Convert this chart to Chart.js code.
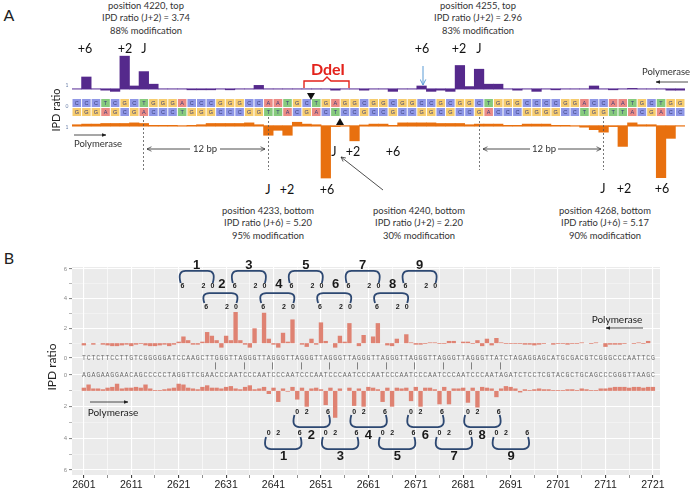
<!DOCTYPE html>
<html lang="en">
<head>
<meta charset="UTF-8">
<title>IPD ratio</title>
<style>
  body { margin: 0; width: 697px; height: 490px; position: relative; overflow: hidden; background: #fff;
         font-family: Lato, "Liberation Sans", Arial, sans-serif; color: #222; }
  .box { position: absolute; }
  .c { position: absolute; transform: translate(-50%, -50%); white-space: nowrap; line-height: 1; }
  .note { position: absolute; transform: translateX(-50%); text-align: center; font-size: 9.4px; line-height: 12.4px; color: #333; white-space: nowrap; }
  .lab { font-size: 12.5px; color: #111; }
  .pol { font-size: 9.5px; color: #333; }
  .tiny { font-size: 5px; color: #6a7fa8; }
  .rot { transform: translate(-50%, -50%) rotate(-90deg); }
  svg { position: absolute; left: 0; top: 0; }
</style>
</head>
<body>
<div class="box" style="left:72px; top:48px; width:613px; height:70px;"><canvas id="aTop"></canvas></div>
<div class="box" style="left:72px; top:121px; width:613px; height:60px;"><canvas id="aBot"></canvas></div>
<div class="box" style="left:55px; top:257px; width:625px; height:105px;"><canvas id="bTop"></canvas></div>
<div class="box" style="left:55px; top:362px; width:625px; height:128px;"><canvas id="bBot"></canvas></div>

<!-- panel A text -->
<div class="c" style="left:9px; top:15px; font-size:16px;">A</div>
<div class="note" style="left:146px; top:0px;">position 4220, top<br>IPD ratio (J+2) = 3.74<br>88% modification</div>
<div class="note" style="left:478px; top:0px;">position 4255, top<br>IPD ratio (J+2) = 2.96<br>83% modification</div>
<div class="c lab" style="left:85px; top:49px;">+6</div>
<div class="c lab" style="left:125px; top:49px;">+2</div>
<div class="c lab" style="left:144px; top:49px;">J</div>
<div class="c lab" style="left:422px; top:49px;">+6</div>
<div class="c lab" style="left:459px; top:49px;">+2</div>
<div class="c lab" style="left:479px; top:49px;">J</div>
<div class="c" style="left:328px; top:69px; font-size:16px; font-weight:bold; color:#e3221b;">DdeI</div>
<div class="c pol" style="left:666px; top:72px;">Polymerase</div>
<div class="c pol" style="left:98px; top:144px;">Polymerase</div>
<div class="c rot" style="left:55px; top:110px; font-size:11px;">IPD ratio</div>
<div class="c tiny" style="left:67px; top:85px;">1</div>
<div class="c tiny" style="left:67px; top:106px;">0</div>
<div class="c tiny" style="left:67px; top:127px;">1</div>
<div class="c pol" style="left:205px; top:149px;">12 bp</div>
<div class="c pol" style="left:544px; top:149px;">12 bp</div>
<div class="c lab" style="left:334px; top:152px;">J</div>
<div class="c lab" style="left:353px; top:152px;">+2</div>
<div class="c lab" style="left:393px; top:152px;">+6</div>
<div class="c lab" style="left:268px; top:190px;">J</div>
<div class="c lab" style="left:287px; top:190px;">+2</div>
<div class="c lab" style="left:327px; top:190px;">+6</div>
<div class="c lab" style="left:603px; top:189px;">J</div>
<div class="c lab" style="left:624px; top:189px;">+2</div>
<div class="c lab" style="left:662px; top:189px;">+6</div>
<div class="note" style="left:268px; top:205px;">position 4233, bottom<br>IPD ratio (J+6) = 5.20<br>95% modification</div>
<div class="note" style="left:419px; top:205px;">position 4240, bottom<br>IPD ratio (J+2) = 2.20<br>30% modification</div>
<div class="note" style="left:605px; top:205px;">position 4268, bottom<br>IPD ratio (J+6) = 5.17<br>90% modification</div>

<!-- panel B text -->
<div class="c" style="left:9px; top:258px; font-size:16px;">B</div>
<div class="c rot" style="left:52px; top:367px; font-size:12px;">IPD ratio</div>
<div class="c" style="left:617px; top:319px; font-size:10px;">Polymerase</div>
<div class="c" style="left:113px; top:412px; font-size:10px;">Polymerase</div>

<svg width="697" height="490">
  <defs>
    <marker id="fh" viewBox="0 0 10 10" refX="9" refY="5" markerWidth="6" markerHeight="6" orient="auto-start-reverse">
      <path d="M0,1 L10,5 L0,9 z" fill="#222"/>
    </marker>
    <marker id="bh" viewBox="0 0 10 10" refX="9" refY="5" markerWidth="7" markerHeight="7" orient="auto-start-reverse">
      <path d="M1,1 L9,5 L1,9" fill="none" stroke="#5b9bd5" stroke-width="1.4"/>
    </marker>
    <marker id="oh" viewBox="0 0 10 10" refX="9" refY="5" markerWidth="7" markerHeight="7" orient="auto-start-reverse">
      <path d="M1,1 L9,5 L1,9" fill="none" stroke="#222" stroke-width="1.2"/>
    </marker>
  </defs>
  <g stroke="#555" stroke-width="0.8" stroke-dasharray="2,2">
    <line x1="143.5" y1="116" x2="143.5" y2="170"/>
    <line x1="268.5" y1="117" x2="268.5" y2="170"/>
    <line x1="479.5" y1="117" x2="479.5" y2="170"/>
    <line x1="603.5" y1="117" x2="603.5" y2="170"/>
  </g>
  <g stroke="#222" stroke-width="0.8" fill="none">
    <line x1="190" y1="149" x2="147" y2="149" marker-end="url(#oh)"/>
    <line x1="220" y1="149" x2="265" y2="149" marker-end="url(#oh)"/>
    <line x1="530" y1="149" x2="483" y2="149" marker-end="url(#oh)"/>
    <line x1="558" y1="149" x2="601" y2="149" marker-end="url(#oh)"/>
    <line x1="74" y1="135" x2="106" y2="135" marker-end="url(#fh)"/>
    <line x1="688" y1="82" x2="656" y2="82" marker-end="url(#fh)"/>
    <line x1="383" y1="190" x2="341" y2="157" marker-end="url(#oh)"/>
    <line x1="643" y1="328" x2="606" y2="328" marker-end="url(#fh)"/>
    <line x1="90" y1="402" x2="128" y2="402" marker-end="url(#fh)"/>
  </g>
  <line x1="423" y1="66" x2="423" y2="85" stroke="#5b9bd5" stroke-width="1" marker-end="url(#bh)"/>
  <polyline points="304,88 304,81 323,81 327,77 331,81 349,81 349,88" fill="none" stroke="#e3221b" stroke-width="1.4"/>
  <polygon points="307,93 315,93 311,100" fill="#111"/>
  <polygon points="336,125 344,125 340,118" fill="#111"/>
</svg>

<script src="https://cdn.jsdelivr.net/npm/chart.js"></script>
<script>
// ---- panel A: positions 4213..4276, IPD ratio per base ----
const posA = Array.from({ length: 64 }, (_, i) => 4213 + i);
const topA = [
  1.0, 2.0, 1.0, 0.9, 0.8, 3.74, 1.25, 2.45, 1.4, 1.0,
  1.0, 1.0, 0.93, 0.93, 0.93, 1.0, 0.93, 1.0, 1.0, 1.3,
  1.0, 1.0, 1.0, 1.0, 1.0, 1.0, 1.0, 0.9, 1.0, 1.0,
  0.9, 1.0, 1.0, 0.8, 1.0, 1.0, 1.25, 0.8, 0.9, 0.8,
  2.96, 1.2, 2.65, 1.4, 1.4, 1.0, 0.9, 1.0, 0.8, 1.0,
  0.93, 1.0, 1.0, 1.0, 1.25, 1.0, 0.93, 1.0, 1.05, 1.0,
  1.0, 1.0, 0.9, 0.9
];
const botA = [
  0.9, 0.85, 0.85, 0.8, 0.8, 0.8, 0.75, 0.8, 0.95, 0.95,
  0.95, 1.0, 0.95, 0.9, 0.8, 0.8, 0.8, 0.8, 0.75, 0.9,
  1.75, 1.35, 1.75, 0.7, 0.85, 0.9, 5.2, 1.05, 1.0, 2.2,
  0.92, 0.85, 0.85, 0.95, 0.75, 0.75, 0.75, 0.75, 0.8, 0.8,
  0.8, 0.9, 0.85, 0.85, 0.85, 0.95, 0.95, 0.85, 0.85, 0.85,
  0.95, 0.95, 1.0, 1.1, 1.3, 1.5, 1.05, 2.65, 0.75, 0.9,
  0.9, 5.17, 2.0, 1.0
];
const seqA = "CCCTCGCTGGGACCCGGGCCAATGCTGAGGCGGCGGCCGCGGCTGGGCCCCGGACCAATGCTGG";

// ---- panel B: positions 2601..2721 ----
const posB = Array.from({ length: 121 }, (_, i) => 2601 + i);
const topB = [
  0.85, 1.0, 0.9, 1.0, 0.9, 0.85, 0.8, 0.8, 0.85, 0.9,
  0.8, 0.9, 0.95, 0.85, 0.8, 0.8, 0.85, 0.9, 0.8, 0.9,
  1.1, 1.45, 1.2, 0.9, 0.9, 1.1, 1.75, 1.5, 1.2, 0.7,
  1.5, 1.2, 3.1, 1.2, 0.9, 0.7, 2.0, 1.0, 3.05, 1.3,
  0.9, 0.7, 1.7, 1.1, 2.6, 1.0, 0.9, 0.75, 1.3, 0.9,
  2.4, 1.15, 1.0, 0.7, 1.5, 1.1, 2.35, 1.0, 0.8, 1.55,
  1.0, 1.45, 2.35, 1.0, 0.85, 0.8, 1.3, 1.0, 1.6, 1.05,
  0.9, 0.9, 0.95, 1.05, 1.05, 0.95, 0.95, 1.15, 1.15, 1.0,
  1.1, 1.1, 0.95, 1.2, 0.8, 1.3, 0.85, 1.35, 1.05, 0.95,
  0.95, 0.95, 0.95, 0.9, 0.9, 0.85, 0.9, 0.95, 1.0, 0.9,
  0.95, 0.95, 0.9, 0.95, 0.95, 1.05, 1.0, 0.95, 1.05, 1.0,
  0.75, 0.9, 0.9, 0.9, 0.95, 1.0, 0.95, 1.05, 0.95, 1.15,
  1.0
];
const botB = [
  0.8, 0.6, 0.85, 0.85, 0.9, 0.8, 0.75, 0.55, 0.85, 0.8,
  0.8, 0.75, 0.8, 0.6, 0.85, 0.95, 0.95, 0.9, 0.85, 0.8,
  0.55, 0.6, 0.8, 0.85, 0.9, 0.75, 0.65, 0.8, 0.8, 0.85,
  0.75, 0.7, 0.85, 0.9, 0.75, 0.65, 0.9, 0.85, 0.75, 1.2,
  0.8, 1.7, 0.85, 1.05, 0.75, 1.55, 0.8, 2.0, 0.85, 0.8,
  0.9, 1.9, 0.8, 2.7, 0.85, 1.0, 0.8, 1.95, 0.85, 2.0,
  0.75, 0.8, 0.9, 1.7, 0.8, 2.0, 0.8, 0.85, 0.8, 1.65,
  0.75, 2.0, 0.8, 0.8, 0.9, 1.85, 0.75, 1.85, 0.85, 0.85,
  0.8, 1.75, 0.8, 2.05, 0.75, 0.8, 0.85, 1.4, 0.85, 0.7,
  0.75, 0.85, 1.1, 0.9, 0.95, 0.9, 0.85, 0.9, 0.9, 0.95,
  0.95, 0.95, 0.9, 0.9, 0.95, 0.85, 0.9, 0.95, 0.95, 0.85,
  0.85, 0.8, 0.75, 0.75, 0.75, 0.8, 0.75, 0.75, 0.8, 0.75,
  0.75
];
const seqBTop = "TCTCTTCCTTGTCGGGGGATCCAAGCTT" + "GGGTTAGGGTTAGGGTTAGGGTTAGGGTTAGGGTTAGGGTTAGGGTTAGGGTTAGGGTTA" + "TCTAGAGGAGCATGCGACGTCGGGCCCAATTCG";
const seqBBot = "AGAGAAGGAACAGCCCCCTAGGTTCGAA" + "CCCAATCCCAATCCCAATCCCAATCCCAATCCCAATCCCAATCCCAATCCCAATCCCAAT" + "AGATCTCCTCGTACGCTGCAGCCCGGGTTAAGC";
const pairMarks = [2629, 2635, 2641, 2647, 2653, 2659, 2665, 2671, 2677, 2683, 2689];
const xTicksB = [2601, 2606, 2611, 2616, 2621, 2626, 2631, 2636, 2641, 2646, 2651, 2656, 2661,
                 2666, 2671, 2676, 2681, 2686, 2691, 2696, 2701, 2706, 2711, 2716, 2721];
const yTicksB = [0, 1, 2, 3, 4, 5, 6];
// repeat brackets: J position (0) of each numbered repeat
const topOdd = [2628, 2639, 2651, 2663, 2675], topOddLab = ['1', '3', '5', '7', '9'];
const topEven = [2633, 2645, 2657, 2669], topEvenLab = ['2', '4', '6', '8'];
const botOdd = [2640, 2652, 2664, 2676, 2688], botOddLab = ['1', '3', '5', '7', '9'];
const botEven = [2646, 2658, 2670, 2682], botEvenLab = ['2', '4', '6', '8'];

Chart.defaults.font.family = '"Liberation Sans", Arial, sans-serif';
const comp = { A: 'T', T: 'A', C: 'G', G: 'C' };
const baseCol = { C: '#8f97e6', G: '#f6cc6e', A: '#ec8b85', T: '#86ca7d' };

function baseLine(color) {
  return {
    id: 'baseLine',
    beforeDatasetsDraw(c) {
      const a = c.chartArea, y = c.scales.y.getPixelForValue(1), ctx = c.ctx;
      ctx.save(); ctx.strokeStyle = color; ctx.lineWidth = 1.3;
      ctx.beginPath(); ctx.moveTo(a.left, y); ctx.lineTo(a.right, y); ctx.stroke(); ctx.restore();
    }
  };
}
const seqCells = {
  id: 'seqCells',
  afterDraw(c) {
    const xs = c.scales.x, a = c.chartArea, ctx = c.ctx;
    ctx.save();
    ctx.font = '5.5px "Liberation Sans", Arial';
    ctx.textAlign = 'center'; ctx.textBaseline = 'middle';
    posA.forEach((p, i) => {
      const x0 = xs.getPixelForValue(p - 0.5), x1 = xs.getPixelForValue(p + 0.5);
      [seqA[i], comp[seqA[i]]].forEach((b, r) => {
        const y0 = a.bottom + 5 + r * 9;
        ctx.fillStyle = baseCol[b];
        ctx.fillRect(x0 + 0.5, y0, x1 - x0 - 1, 8);
        ctx.fillStyle = '#3b3f7a';
        ctx.fillText(b, (x0 + x1) / 2, y0 + 4.3);
      });
    });
    ctx.restore();
  }
};
const grayBg = {
  id: 'grayBg',
  beforeDraw(c) {
    const a = c.chartArea, ctx = c.ctx;
    ctx.save(); ctx.fillStyle = '#ebebeb';
    ctx.fillRect(a.left, a.top, a.right - a.left, a.bottom - a.top); ctx.restore();
  }
};
function brace(ctx, xa, xb, yEnd, yFlat) {
  const r = 6, k = (yEnd - yFlat) * 0.25;
  ctx.beginPath();
  ctx.moveTo(xa + 1, yEnd);
  ctx.bezierCurveTo(xa - 1.5, yFlat + k, xa + 1, yFlat, xa + r, yFlat);
  ctx.lineTo(xb - r, yFlat);
  ctx.bezierCurveTo(xb - 1, yFlat, xb + 1.5, yFlat + k, xb - 1, yEnd);
  ctx.stroke();
}
function drawSeq(c, seq, color) {
  const xs = c.scales.x, y = c.scales.y.getPixelForValue(0), ctx = c.ctx;
  const step = (posB[posB.length - 1] - posB[0]) / (seq.length - 1);
  ctx.save();
  ctx.font = '6.5px "Liberation Mono", monospace';
  ctx.fillStyle = color; ctx.textAlign = 'center'; ctx.textBaseline = 'middle';
  for (let i = 0; i < seq.length; i++) ctx.fillText(seq[i], xs.getPixelForValue(posB[0] + i * step), y);
  ctx.restore();
}
function bracketSet(c, p0s, labs, dir, ends, flat, numY, digY, digits, offs, numOff) {
  const xs = c.scales.x, ys = c.scales.y, ctx = c.ctx;
  ctx.save();
  ctx.strokeStyle = '#2d4872'; ctx.lineWidth = 1.8;
  ctx.textAlign = 'center'; ctx.textBaseline = 'middle'; ctx.fillStyle = '#1a1a1a';
  p0s.forEach((p0, i) => {
    const xa = xs.getPixelForValue(dir > 0 ? p0 - 0.8 : p0 - 6.8);
    const xb = xs.getPixelForValue(dir > 0 ? p0 + 6.9 : p0 + 0.4);
    brace(ctx, xa, xb, ys.getPixelForValue(ends), ys.getPixelForValue(flat));
    ctx.font = 'bold 7px "Liberation Sans", Arial';
    digits.forEach((d, j) => ctx.fillText(d, xs.getPixelForValue(p0 + offs[j]), ys.getPixelForValue(digY)));
    ctx.font = 'bold 13px "Liberation Sans", Arial';
    ctx.fillText(labs[i], xs.getPixelForValue(p0 + numOff), ys.getPixelForValue(numY));
  });
  ctx.restore();
}
const bTopDeco = {
  id: 'bTopDeco',
  afterDatasetsDraw(c) {
    drawSeq(c, seqBTop, '#6b6b6b');
    bracketSet(c, topOdd, topOddLab, -1, 5.06, 5.87, 6.27, 4.86, ['6', '2', '0'], [-6.2, -1.8, 0.1], -3.2);
    bracketSet(c, topEven, topEvenLab, -1, 3.71, 4.38, 4.99, 3.44, ['6', '2', '0'], [-6.2, -1.8, 0.1], -2.9);
  }
};
const bBotDeco = {
  id: 'bBotDeco',
  afterDatasetsDraw(c) {
    drawSeq(c, seqBBot, '#6b6b6b');
    const xs = c.scales.x, ys = c.scales.y, ctx = c.ctx;
    ctx.save(); ctx.strokeStyle = '#666'; ctx.lineWidth = 0.8;
    pairMarks.forEach(p => {
      const x = Math.round(xs.getPixelForValue(p - 0.3)) + 0.5;
      ctx.beginPath(); ctx.moveTo(x, ys.getPixelForValue(-0.8)); ctx.lineTo(x, ys.getPixelForValue(-0.35)); ctx.stroke();
    });
    ctx.restore();
    bracketSet(c, botEven, botEvenLab, 1, 2.53, 3.29, 3.8, 2.34, ['0', '2', '6'], [0, 2, 6.5], 3.0);
    bracketSet(c, botOdd, botOddLab, 1, 3.92, 4.68, 5.13, 3.67, ['0', '2', '6'], [0, 2, 6.5], 3.1);
  }
};

const common = {
  responsive: true, maintainAspectRatio: false, animation: false, events: [],
  plugins: { legend: { display: false }, tooltip: { enabled: false } }
};
const tv = c => (c && c.tick ? c.tick.value : NaN);

// panel A, top strand
new Chart(document.getElementById('aTop'), {
  type: 'bar',
  data: { datasets: [{ data: posA.map((p, i) => ({ x: p, y: [1, topA[i]] })), backgroundColor: '#55298c',
                       barPercentage: 1, categoryPercentage: 1 }] },
  options: Object.assign({}, common, {
    layout: { padding: { bottom: 24 } },
    scales: { x: { type: 'linear', min: 4212.5, max: 4276.5, offset: false, display: false },
              y: { min: 0.58, max: 4.42, display: false } }
  }),
  plugins: [baseLine('#b9a6da'), seqCells]
});

// panel A, bottom strand (axis downward)
new Chart(document.getElementById('aBot'), {
  type: 'bar',
  data: { datasets: [{ data: posA.map((p, i) => ({ x: p, y: [1, botA[i]] })), backgroundColor: '#e8700f',
                       barPercentage: 1, categoryPercentage: 1 }] },
  options: Object.assign({}, common, {
    scales: { x: { type: 'linear', min: 4212.5, max: 4276.5, offset: false, display: false },
              y: { min: 0.6, max: 5.44, reverse: true, display: false } }
  }),
  plugins: [baseLine('#f0a060')]
});

function xAxisB(showLabels) {
  return {
    type: 'linear', min: 2598.5, max: 2722.5, offset: false,
    afterBuildTicks: a => { a.ticks = xTicksB.map(v => ({ value: v })); },
    afterFit: a => { a.height = showLabels ? 15 : 0; a.paddingLeft = 0; a.paddingRight = 0; },
    border: { display: false },
    grid: { offset: false, color: '#ffffff', lineWidth: c => ((tv(c) - 2601) % 10 === 0 ? 1.1 : 0.6),
            drawTicks: showLabels, tickLength: 3, tickColor: '#444' },
    ticks: { display: showLabels, autoSkip: false, maxRotation: 0, padding: 1, color: '#222',
             font: { size: 10.5 }, callback: v => ((v - 2601) % 10 === 0 ? String(v) : '') }
  };
}
function yAxisB(min, max, rev) {
  return {
    min: min, max: max, reverse: rev,
    afterBuildTicks: a => { a.ticks = yTicksB.map(v => ({ value: v })); },
    afterFit: a => { a.width = 17; a.paddingTop = 0; a.paddingBottom = 0; },
    border: { display: false },
    grid: { color: c => (tv(c) % 2 === 0 ? '#ffffff' : 'rgba(255,255,255,0.6)'),
            lineWidth: c => (tv(c) % 2 === 0 ? 1.1 : 0.6), tickLength: 3, tickColor: '#888' },
    ticks: { color: '#8a8a8a', padding: 2, font: { size: 6 }, callback: v => (v % 2 === 0 ? String(v) : '') }
  };
}

// panel B, top strand
new Chart(document.getElementById('bTop'), {
  type: 'bar',
  data: { datasets: [{ data: posB.map((p, i) => ({ x: p, y: [1, topB[i]] })), backgroundColor: '#df8272',
                       barPercentage: 0.92, categoryPercentage: 1 }] },
  options: Object.assign({}, common, {
    layout: { padding: { top: 10, right: 20 } },
    scales: { x: xAxisB(false), y: yAxisB(-0.27, 6.135, false) }
  }),
  plugins: [grayBg, bTopDeco]
});

// panel B, bottom strand (axis downward)
new Chart(document.getElementById('bBot'), {
  type: 'bar',
  data: { datasets: [{ data: posB.map((p, i) => ({ x: p, y: [1, botB[i]] })), backgroundColor: '#df8272',
                       barPercentage: 0.92, categoryPercentage: 1 }] },
  options: Object.assign({}, common, {
    layout: { padding: { right: 20 } },
    scales: { x: xAxisB(true), y: yAxisB(-0.823, 6.316, true) }
  }),
  plugins: [grayBg, bBotDeco]
});
</script>
</body>
</html>
